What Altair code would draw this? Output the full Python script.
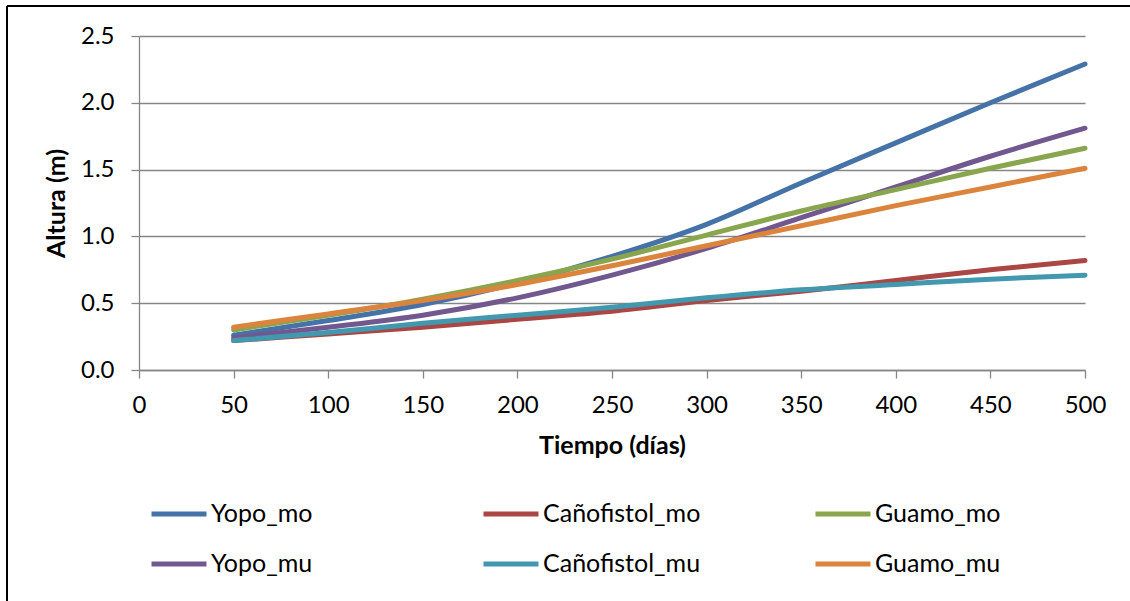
import altair as alt
import pandas as pd

dias = [50, 100, 150, 200, 250, 300, 350, 400, 450, 500]
yopo_mo = [0.26, 0.37, 0.49, 0.65, 0.85, 1.09, 1.40, 1.70, 2.00, 2.29]
canofistol_mo = [0.22, 0.27, 0.32, 0.38, 0.44, 0.52, 0.59, 0.67, 0.75, 0.82]
guamo_mo = [0.30, 0.41, 0.53, 0.67, 0.83, 1.01, 1.19, 1.35, 1.51, 1.66]
yopo_mu = [0.24, 0.32, 0.41, 0.54, 0.71, 0.91, 1.14, 1.37, 1.60, 1.81]
canofistol_mu = [0.22, 0.28, 0.35, 0.41, 0.47, 0.54, 0.60, 0.64, 0.68, 0.71]
guamo_mu = [0.32, 0.42, 0.52, 0.64, 0.78, 0.93, 1.08, 1.23, 1.37, 1.51]

# legend is filled column by column: (Yopo_mo, Yopo_mu), (Cañofistol_mo, Cañofistol_mu), (Guamo_mo, Guamo_mu)
series_names = ["Yopo_mo", "Yopo_mu", "Cañofistol_mo", "Cañofistol_mu", "Guamo_mo", "Guamo_mu"]
series_values = [yopo_mo, yopo_mu, canofistol_mo, canofistol_mu, guamo_mo, guamo_mu]
colors = ["#4572A7", "#71588F", "#AA4643", "#4198AF", "#89A54E", "#DB843D"]

rows = []
for name, vals in zip(series_names, series_values):
    for d, v in zip(dias, vals):
        rows.append({"dias": d, "altura": v, "serie": name})
df = pd.DataFrame(rows)

FONT = "Lato"

lines = alt.Chart(df).mark_line(strokeWidth=5, strokeCap="round", interpolate="monotone").encode(
    x=alt.X("dias:Q", title="Tiempo (días)",
            scale=alt.Scale(domain=[0, 500], nice=False),
            axis=alt.Axis(values=list(range(0, 501, 50)), grid=False, tickSize=8,
                          labelFlush=False, labelOverlap=False,
                          labelPadding=15, titlePadding=16)),
    y=alt.Y("altura:Q", title="Altura (m)",
            scale=alt.Scale(domain=[0, 2.5], nice=False),
            axis=alt.Axis(values=[0, 0.5, 1.0, 1.5, 2.0, 2.5], format=".1f", grid=True,
                          labelFlush=False, labelOverlap=False,
                          tickSize=8, labelPadding=17, titlePadding=11)),
    color=alt.Color("serie:N", sort=series_names,
                    scale=alt.Scale(domain=series_names, range=colors),
                    legend=alt.Legend(title=None, orient="none", legendX=10, legendY=448,
                                      columns=3, gridAlign="all", columnPadding=104,
                                      rowPadding=7, symbolType="stroke", symbolSize=3025,
                                      symbolStrokeWidth=5, labelFontSize=25, labelFont=FONT,
                                      labelOffset=2, labelColor="black", labelLimit=400)),
)

frame_df = pd.DataFrame({"k": [0]})
frame_left = alt.Chart(frame_df).mark_rule(color="black", strokeWidth=2).encode(
    x=alt.value(-132), y=alt.value(-30), y2=alt.value(570))
frame_top = alt.Chart(frame_df).mark_rule(color="black", strokeWidth=2).encode(
    x=alt.value(-132), x2=alt.value(1000), y=alt.value(-30))

chart = alt.layer(lines, frame_left, frame_top).properties(
    width=946, height=334,
    autosize=alt.AutoSizeParams(type="none"),
    padding={"left": 139, "top": 36, "right": 45, "bottom": 231},
).configure_view(stroke=None).configure_axis(
    labelFont=FONT, labelFontSize=24, labelColor="black",
    titleFont=FONT, titleFontSize=25, titleFontWeight="bold", titleColor="black",
    domainColor="#868686", tickColor="#868686", gridColor="#868686",
    domainWidth=1.3, tickWidth=1.3, gridWidth=1.3,
)

chart.save("out.html", embed_options={"renderer": "svg", "actions": False})
